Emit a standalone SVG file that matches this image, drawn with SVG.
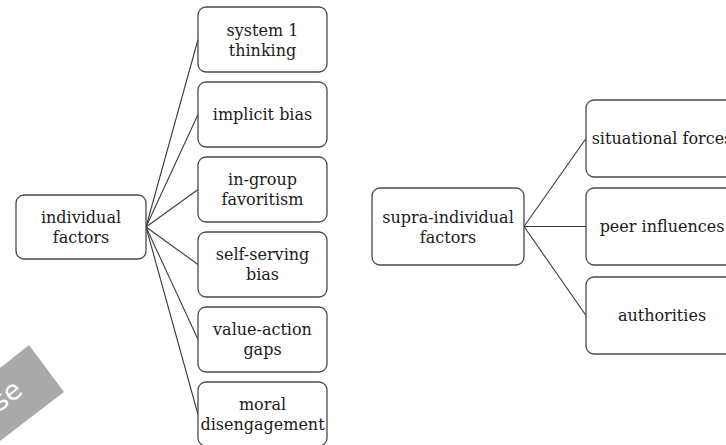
<svg xmlns="http://www.w3.org/2000/svg" width="726" height="445" viewBox="0 0 726 445">
<style>
.box{fill:#fff;stroke:#4a4a4a;stroke-width:1.3}
.t{font-family:"DejaVu Serif","Liberation Serif",serif;font-size:16px;fill:#1a1a1a;text-anchor:middle}
.c{stroke:#3a3a3a;stroke-width:1.1;fill:none}
</style>
<rect width="726" height="445" fill="#fff"/>
<g id="watermark">
<polygon points="0,368 29,345 64,392 0,441" fill="#aaaaaa"/>
<text x="24" y="393" transform="rotate(-38 24 393)" font-family="DejaVu Sans, sans-serif" font-size="27" fill="#fff" text-anchor="end">se</text>
</g>
<g id="connectors">
<line class="c" x1="146" y1="227" x2="198" y2="39.5"/>
<line class="c" x1="146" y1="227" x2="198" y2="114.5"/>
<line class="c" x1="146" y1="227" x2="198" y2="189.5"/>
<line class="c" x1="146" y1="227" x2="198" y2="264.5"/>
<line class="c" x1="146" y1="227" x2="198" y2="339.5"/>
<line class="c" x1="146" y1="227" x2="198" y2="414.5"/>
<line class="c" x1="524" y1="226.5" x2="586" y2="138.5"/>
<line class="c" x1="524" y1="226.5" x2="586" y2="226.5"/>
<line class="c" x1="524" y1="226.5" x2="586" y2="315.5"/>
</g>
<g id="individual-factors">
<rect class="box" x="16" y="195" width="130" height="64" rx="8"/>
<text class="t" x="81" y="223">individual</text>
<text class="t" x="81" y="243">factors</text>
</g>
<g id="system-1-thinking">
<rect class="box" x="198" y="7" width="129" height="65" rx="8"/>
<text class="t" x="262.5" y="36">system 1</text>
<text class="t" x="262.5" y="56">thinking</text>
</g>
<g id="implicit-bias">
<rect class="box" x="198" y="82" width="129" height="65" rx="8"/>
<text class="t" x="262.5" y="120">implicit bias</text>
</g>
<g id="in-group-favoritism">
<rect class="box" x="198" y="157" width="129" height="65" rx="8"/>
<text class="t" x="262.5" y="185">in-group</text>
<text class="t" x="262.5" y="205">favoritism</text>
</g>
<g id="self-serving-bias">
<rect class="box" x="198" y="232" width="129" height="65" rx="8"/>
<text class="t" x="262.5" y="260">self-serving</text>
<text class="t" x="262.5" y="280">bias</text>
</g>
<g id="value-action-gaps">
<rect class="box" x="198" y="307" width="129" height="65" rx="8"/>
<text class="t" x="262.5" y="335">value-action</text>
<text class="t" x="262.5" y="355">gaps</text>
</g>
<g id="moral-disengagement">
<rect class="box" x="198" y="382" width="129" height="64" rx="8"/>
<text class="t" x="262.5" y="410">moral</text>
<text class="t" x="262.5" y="430">disengagement</text>
</g>
<g id="supra-individual-factors">
<rect class="box" x="372" y="188" width="152" height="77" rx="8"/>
<text class="t" x="448" y="223">supra-individual</text>
<text class="t" x="448" y="243">factors</text>
</g>
<g id="situational-forces">
<rect class="box" x="586" y="100" width="152" height="77" rx="8"/>
<text class="t" x="662" y="144">situational forces</text>
</g>
<g id="peer-influences">
<rect class="box" x="586" y="188" width="152" height="77" rx="8"/>
<text class="t" x="662" y="232">peer influences</text>
</g>
<g id="authorities">
<rect class="box" x="586" y="277" width="152" height="77" rx="8"/>
<text class="t" x="662" y="321">authorities</text>
</g>
</svg>
